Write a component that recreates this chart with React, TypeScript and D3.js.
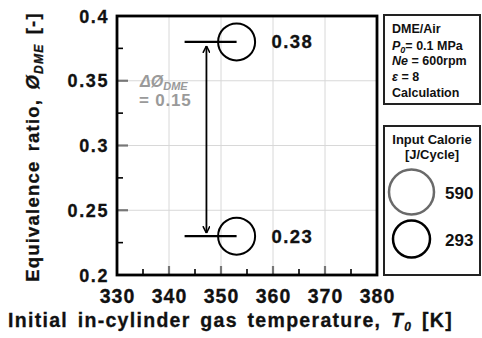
import React from "react";
import * as d3 from "d3";

const xTicks = [330, 340, 350, 360, 370, 380];
const yTicks = [0.2, 0.25, 0.3, 0.35, 0.4];
const xMinor = [335, 345, 355, 365, 375];
const yMinor = [0.225, 0.275, 0.325, 0.375];
const pointT = [353, 353];
const pointPhi = [0.38, 0.23];
const pointLabels = ["0.38", "0.23"];
const lineStartT = [343, 343];
const arrowT = 347.2;
const legendCalories = ["590", "293"];
const legendColors = ["#6a6a6a", "#000"];
const legendRadius = [22.5, 18.5];
const legendY = [192, 239];

const FONT = "'Liberation Sans', Arial, sans-serif";

export default function App() {
  const W = 482, H = 338;
  const L = 117, R = 377, T = 16, B = 275;
  const x = d3.scaleLinear().domain([330, 380]).range([L, R]);
  const y = d3.scaleLinear().domain([0.2, 0.4]).range([B, T]);
  const grid = "#d8d8d8";
  const txt = "#111";
  return (
    <svg width={W} height={H} style={{ position: "absolute", left: 0, top: 0, background: "#fff" }} fontFamily={FONT}>
      <defs>
        <marker id="ah" viewBox="0 0 10 10" refX="10" refY="5" markerWidth="7" markerHeight="8" orient="auto-start-reverse" markerUnits="userSpaceOnUse">
          <path d="M0,0 L10,5 L0,10" fill="none" stroke="#000" strokeWidth="2.2" />
        </marker>
      </defs>
      <rect x={0} y={0} width={W} height={H} fill="#fff" />
      {/* grid */}
      {xTicks.slice(1, -1).map((t) => (
        <line key={"gx" + t} x1={x(t)} x2={x(t)} y1={T} y2={B} stroke={grid} strokeWidth={1} />
      ))}
      {yTicks.slice(1, -1).map((t) => (
        <line key={"gy" + t} x1={L} x2={R} y1={y(t)} y2={y(t)} stroke={grid} strokeWidth={1} />
      ))}
      {/* ticks */}
      {xTicks.slice(1, -1).map((t) => (
        <line key={"tx" + t} x1={x(t)} x2={x(t)} y1={B} y2={B - 9} stroke="#777" strokeWidth={2.2} />
      ))}
      {xMinor.map((t) => (
        <line key={"mx" + t} x1={x(t)} x2={x(t)} y1={B} y2={B - 6} stroke="#000" strokeWidth={1.6} />
      ))}
      {yTicks.slice(1, -1).map((t) => (
        <line key={"ty" + t} x1={L} x2={L + 11} y1={y(t)} y2={y(t)} stroke="#777" strokeWidth={2.2} />
      ))}
      {yMinor.map((t) => (
        <line key={"my" + t} x1={L} x2={L + 6} y1={y(t)} y2={y(t)} stroke="#000" strokeWidth={1.6} />
      ))}
      {/* frame */}
      <rect x={L} y={T} width={R - L} height={B - T} fill="none" stroke="#000" strokeWidth={2.8} />
      {/* tick labels */}
      {yTicks.map((t) => (
        <text key={"ly" + t} x={109} y={y(t) + 6.5} textAnchor="end" fontSize={18} fontWeight="bold" letterSpacing={1.6} fill={txt} stroke={txt} strokeWidth={0.3}>
          {String(t)}
        </text>
      ))}
      {xTicks.map((t) => (
        <text key={"lx" + t} x={x(t) + 0.5} y={303} textAnchor="middle" fontSize={19.5} fontWeight="bold" letterSpacing={1} fill={txt} stroke={txt} strokeWidth={0.3}>
          {t}
        </text>
      ))}
      {/* data */}
      {pointT.map((t, i) => (
        <g key={"p" + i}>
          <line x1={x(lineStartT[i])} x2={x(t)} y1={y(pointPhi[i])} y2={y(pointPhi[i])} stroke="#000" strokeWidth={2.2} />
          <circle cx={x(t)} cy={y(pointPhi[i])} r={18.5} fill="none" stroke="#000" strokeWidth={2} />
          <text x={x(t) + 35} y={y(pointPhi[i]) + 6.5} fontSize={18.5} fontWeight="bold" letterSpacing={1.4} fill={txt} stroke={txt} strokeWidth={0.3}>
            {pointLabels[i]}
          </text>
        </g>
      ))}
      <line x1={x(arrowT)} x2={x(arrowT)} y1={y(pointPhi[0]) + 4} y2={y(pointPhi[1]) - 3} stroke="#000" strokeWidth={1.8} markerStart="url(#ah)" markerEnd="url(#ah)" />
      <text x={140} y={87} fontSize={16} fontWeight="bold" fontStyle="italic" fill="#9a9a9a">
        ΔØ<tspan fontSize={11} dy={3}>DME</tspan>
      </text>
      <text x={139} y={106} fontSize={17} fontWeight="bold" letterSpacing={0.8} fill="#9a9a9a">= 0.15</text>
      {/* axis titles */}
      <text x={8} y={327} fontSize={19.5} fontWeight="bold" letterSpacing={1.3} wordSpacing={3} fill={txt} stroke={txt} strokeWidth={0.3}>
        Initial in-cylinder gas temperature, <tspan fontStyle="italic">T</tspan>
        <tspan fontSize={12} fontStyle="italic" dy={4}>0</tspan>
        <tspan dy={-4}> [K]</tspan>
      </text>
      <text transform={`translate(39,147) rotate(-90)`} textAnchor="middle" fontSize={18.5} fontWeight="bold" letterSpacing={1.2} wordSpacing={3} fill={txt} stroke={txt} strokeWidth={0.3}>
        Equivalence ratio, <tspan fontStyle="italic">Ø</tspan>
        <tspan fontSize={12} fontStyle="italic" dy={4}>DME</tspan>
        <tspan dy={-4}> [-]</tspan>
      </text>
      {/* legend box 1 */}
      <rect x={384} y={15} width={96} height={89} fill="#fff" stroke="#222" strokeWidth={2} />
      <g fontSize={12.5} fontWeight="bold" fill={txt}>
        <text x={392} y={33}>DME/Air</text>
        <text x={392} y={50}>
          <tspan fontStyle="italic">P</tspan>
          <tspan fontStyle="italic" fontSize={9} dy={3}>0</tspan>
          <tspan dy={-3}>= 0.1 MPa</tspan>
        </text>
        <text x={392} y={65}>
          <tspan fontStyle="italic">Ne</tspan> = 600rpm
        </text>
        <text x={392} y={81}>
          <tspan fontStyle="italic">ε</tspan> = 8
        </text>
        <text x={392} y={97}>Calculation</text>
      </g>
      {/* legend box 2 */}
      <rect x={384} y={126} width={96} height={149} fill="#fff" stroke="#222" strokeWidth={2} />
      <text x={432} y={144} textAnchor="middle" fontSize={13} fontWeight="bold" fill={txt}>Input Calorie</text>
      <text x={432} y={159} textAnchor="middle" fontSize={13} fontWeight="bold" fill={txt}>[J/Cycle]</text>
      {legendCalories.map((c, i) => (
        <g key={"lg" + i}>
          <circle cx={411.5} cy={legendY[i]} r={legendRadius[i]} fill="none" stroke={legendColors[i]} strokeWidth={2.5} />
          <text x={445} y={legendY[i] + 6.5} fontSize={17} fontWeight="bold" fill={txt}>{c}</text>
        </g>
      ))}
    </svg>
  );
}
